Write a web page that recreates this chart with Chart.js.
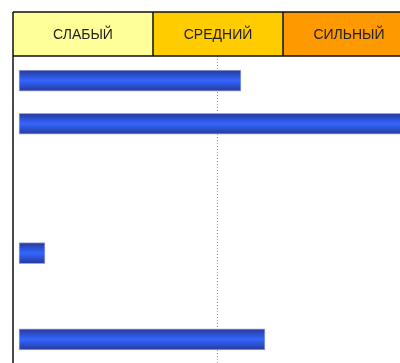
<!DOCTYPE html>
<html>
<head>
<meta charset="utf-8">
<script src="https://cdn.jsdelivr.net/npm/chart.js@4"></script>
<style>
	body { margin: 0; background: #fff; }
	canvas { display: block; }
</style>
</head>
<body>
<canvas id="myChart" width="400" height="363"></canvas>
<script>
// categories (rows) have no visible labels in the picture
const categories = ['1', '2', '3', '4', '5', '6', '7'];
const values = [55.5, 100, null, null, 6.5, null, 61.5];

// header bands: labels, edges (in x-scale values) and colours
const bandLabels = ['СЛАБЫЙ', 'СРЕДНИЙ', 'СИЛЬНЫЙ'];
const bandEdges = [-1.5, 33.5, 66, 99];
const bandColors = ['#ffff99', '#ffcc00', '#ff9900'];
const markerValue = 49.5;	// dotted line

const headerTop = 12;
const headerBottom = 56;

function barGradient(context) {
	const chart = context.chart;
	const y = chart.scales.y;
	if (!y || !chart.chartArea) return '#3366ff';
	const c = y.getPixelForValue(context.dataIndex);
	const g = chart.ctx.createLinearGradient(0, c - 10.5, 0, c + 10.5);
	g.addColorStop(0, '#26399a');
	g.addColorStop(0.5, '#3366ff');
	g.addColorStop(1, '#26399a');
	return g;
}

const headerPlugin = {
	id: 'header',
	beforeDatasetsDraw(chart) {
		const ctx = chart.ctx;
		const x = chart.scales.x;
		ctx.save();
		// dotted marker line
		const mx = Math.round(x.getPixelForValue(markerValue)) + 0.5;
		ctx.strokeStyle = '#999';
		ctx.lineWidth = 1;
		ctx.setLineDash([1, 2]);
		ctx.beginPath();
		ctx.moveTo(mx, headerBottom);
		ctx.lineTo(mx, chart.height);
		ctx.stroke();
		ctx.restore();
	},
	afterDraw(chart) {
		const ctx = chart.ctx;
		const x = chart.scales.x;
		ctx.save();
		for (let i = 0; i < bandLabels.length; i++) {
			const x0 = x.getPixelForValue(bandEdges[i]);
			const x1 = x.getPixelForValue(bandEdges[i + 1]);
			ctx.fillStyle = bandColors[i];
			ctx.fillRect(x0, headerTop, x1 - x0, headerBottom - headerTop);
			ctx.fillStyle = '#222';
			ctx.font = '14px "Liberation Sans", Arial, sans-serif';
			ctx.textAlign = 'center';
			ctx.textBaseline = 'middle';
			ctx.fillText(bandLabels[i], (x0 + x1) / 2, (headerTop + headerBottom) / 2 + 1);
		}
		ctx.strokeStyle = '#111';
		ctx.lineWidth = 1.5;
		ctx.beginPath();
		ctx.moveTo(x.getPixelForValue(bandEdges[0]), headerTop);
		ctx.lineTo(chart.width, headerTop);
		ctx.moveTo(x.getPixelForValue(bandEdges[0]), headerBottom);
		ctx.lineTo(chart.width, headerBottom);
		for (let i = 0; i < bandEdges.length - 1; i++) {
			const ex = x.getPixelForValue(bandEdges[i]);
			ctx.moveTo(ex, headerTop);
			ctx.lineTo(ex, i === 0 ? chart.height : headerBottom);
		}
		ctx.stroke();
		ctx.restore();
	}
};

new Chart(document.getElementById('myChart'), {
	type: 'bar',
	data: {
		labels: categories,
		datasets: [{
			data: values,
			backgroundColor: barGradient,
			borderColor: '#9aa6dc',
			borderWidth: 1,
			borderSkipped: false,
			barThickness: 21
		}]
	},
	options: {
		indexAxis: 'y',
		responsive: false,
		animation: false,
		layout: { padding: { left: 13, top: 59, right: 0, bottom: 2 } },
		plugins: { legend: { display: false }, tooltip: { enabled: false } },
		scales: {
			x: { display: false, min: -1.5, max: 95.25 },
			y: { display: false }
		}
	},
	plugins: [headerPlugin]
});
</script>
</body>
</html>
